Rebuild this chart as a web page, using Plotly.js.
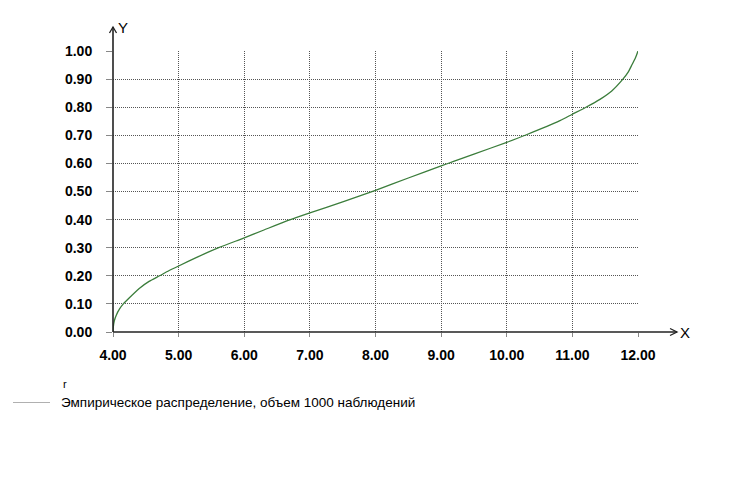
<!DOCTYPE html>
<html>
<head>
<meta charset="utf-8">
<script src="https://cdn.plot.ly/plotly-3.0.1.min.js"></script>
<style>html,body{margin:0;padding:0;background:#fff;}#chart{width:750px;height:500px;}</style>
</head>
<body>
<div id="chart"></div>
<script>
const xValues = [4.00, 4.005, 4.02, 4.05, 4.10, 4.157, 4.25, 4.40, 4.55, 4.71, 4.85, 5.00, 5.30, 5.61, 6.00, 6.30, 6.68, 7.00, 7.50, 8.00, 8.50, 9.00, 9.19, 9.50, 10.00, 10.30, 10.81, 11.00, 11.20, 11.42, 11.60, 11.77, 11.85, 11.91, 11.96, 12.00];
const yValues = [0.00, 0.018, 0.04, 0.06, 0.082, 0.10, 0.122, 0.155, 0.18, 0.20, 0.218, 0.235, 0.268, 0.30, 0.335, 0.363, 0.398, 0.424, 0.463, 0.504, 0.548, 0.591, 0.607, 0.633, 0.675, 0.702, 0.752, 0.775, 0.799, 0.828, 0.858, 0.90, 0.925, 0.952, 0.975, 1.00];
const seriesName = "Эмпирическое распределение, объем 1000 наблюдений";
const legendTitle = "r";
const xAxisLabel = "X";
const yAxisLabel = "Y";
const xRange = [4, 12];
const yRange = [0, 1];

const tickFont = {family: "Liberation Sans, Arial, sans-serif", size: 14, color: "#000", weight: "bold"};

const trace = {
  x: xValues, y: yValues, type: "scatter", mode: "lines",
  line: {color: "#3b7d3b", width: 1.3, shape: "spline", smoothing: 0.6}, showlegend: false, hoverinfo: "skip"
};

const layout = {
  width: 750, height: 500,
  margin: {l: 113, r: 112, t: 51, b: 168},
  paper_bgcolor: "#fff", plot_bgcolor: "#fff",
  showlegend: false,
  xaxis: {
    range: xRange, dtick: 1, tick0: 4, tickformat: ".2f",
    showgrid: true, gridcolor: "#555", griddash: "1px,1px", gridwidth: 1,
    zeroline: false, showline: false,
    ticks: "outside", ticklen: 4, tickcolor: "#888", tickwidth: 1,
    tickfont: tickFont,
    ticklabelstandoff: 6
  },
  yaxis: {
    range: yRange, dtick: 0.1, tick0: 0, tickformat: ".2f",
    showgrid: true, gridcolor: "#555", griddash: "1px,1px", gridwidth: 1,
    zeroline: false, showline: false,
    ticks: "outside", ticklen: 6, tickcolor: "#888", tickwidth: 1,
    tickfont: tickFont,
    ticklabelstandoff: 11
  },
  shapes: [
    // x axis line with arrow
    {type: "line", xref: "paper", yref: "paper", x0: 0, x1: 1.0743, y0: 0, y1: 0, line: {color: "#222", width: 1.6}},
    {type: "path", xref: "paper", yref: "paper", path: "M 1.061 0.0125 L 1.0743 0 L 1.061 -0.0125", line: {color: "#222", width: 1.3}},
    // y axis line with arrow
    {type: "line", xref: "paper", yref: "paper", x0: 0, x1: 0, y0: 0, y1: 1.0855, line: {color: "#222", width: 1.6}},
    {type: "path", xref: "paper", yref: "paper", path: "M -0.0067 1.064 L 0 1.0855 L 0.0067 1.064", line: {color: "#222", width: 1.3}},
    // legend sample line
    {type: "line", xref: "paper", yref: "paper", x0: (13-113)/525, x1: (50-113)/525, y0: (332-402.5)/281, y1: (332-402.5)/281, line: {color: "#b0b0b0", width: 1}}
  ],
  annotations: [
    {text: xAxisLabel, xref: "paper", yref: "paper", x: (685-113)/525, y: 0, xanchor: "center", yanchor: "middle", showarrow: false, font: {family: "Liberation Sans, Arial, sans-serif", size: 15, color: "#000"}},
    {text: yAxisLabel, xref: "paper", yref: "paper", x: (123-113)/525, y: (332-27)/281, xanchor: "center", yanchor: "middle", showarrow: false, font: {family: "Liberation Sans, Arial, sans-serif", size: 15, color: "#000"}},
    {text: legendTitle, xref: "paper", yref: "paper", x: (61-113)/525, y: (332-384)/281, xanchor: "left", yanchor: "middle", showarrow: false, font: {family: "Liberation Sans, Arial, sans-serif", size: 11, color: "#000"}},
    {text: seriesName, xref: "paper", yref: "paper", x: (59-113)/525, y: (332-402.5)/281, xanchor: "left", yanchor: "middle", showarrow: false, font: {family: "Liberation Sans, Arial, sans-serif", size: 13.5, color: "#000"}}
  ]
};

Plotly.newPlot("chart", [trace], layout, {displayModeBar: false, staticPlot: true});
</script>
</body>
</html>
